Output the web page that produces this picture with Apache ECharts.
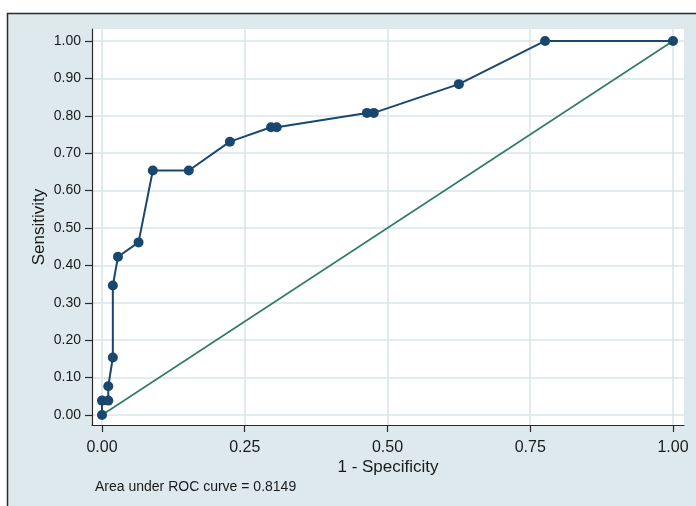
<!DOCTYPE html>
<html>
<head>
<meta charset="utf-8">
<script src="https://cdn.jsdelivr.net/npm/echarts@6/dist/echarts.min.js"></script>
<style>
html,body{margin:0;padding:0;background:#ffffff;}
#chart{width:696px;height:506px;}
</style>
</head>
<body>
<div id="chart"></div>
<script>
// ROC curve points (1 - specificity, sensitivity)
var fpr = [0, 0, 0.011, 0.011, 0.019, 0.019, 0.028, 0.064, 0.089, 0.152, 0.224, 0.296, 0.306, 0.464, 0.476, 0.625, 0.776, 1.0];
var sens = [0, 0.0385, 0.0385, 0.0769, 0.1538, 0.3462, 0.4231, 0.4615, 0.6538, 0.6538, 0.7308, 0.7692, 0.7692, 0.8077, 0.8077, 0.8846, 1.0, 1.0];
// reference diagonal
var refX = [0, 1];
var refY = [0, 1];
// tick values
var xTicks = [0, 0.25, 0.5, 0.75, 1.0];
var yTicks = [0, 0.1, 0.2, 0.3, 0.4, 0.5, 0.6, 0.7, 0.8, 0.9, 1.0];
var xTitle = '1 - Specificity';
var yTitle = 'Sensitivity';
var note = 'Area under ROC curve = 0.8149';

var bg = '#dde9ec';
var gridCol = '#d8e6ea';
var font = 'Arial, "Liberation Sans", sans-serif';

var chart = echarts.init(document.getElementById('chart'), null, {renderer: 'canvas'});
chart.setOption({
  animation: false,
  backgroundColor: '#ffffff',
  graphic: [
    {type: 'rect', z: -10, silent: true,
     shape: {x: 7.5, y: 13.5, width: 720, height: 520},
     style: {fill: bg, stroke: '#2a2a2a', lineWidth: 1.5}},
    {type: 'rect', z: -5, silent: true,
     shape: {x: 92, y: 29, width: 592, height: 396},
     style: {fill: '#ffffff'}},
    {type: 'text', left: 95, top: 480,
     style: {text: note, fontSize: 14, fontFamily: font, fill: '#1a1a1a'}}
  ],
  grid: {left: 92, right: 12, top: 29, bottom: 81, containLabel: false},
  xAxis: {
    type: 'value',
    min: -0.0175, max: 1.0193,
    name: xTitle, nameLocation: 'middle', nameGap: 34, nameMoveOverlap: false,
    nameTextStyle: {fontSize: 17, fontFamily: font, color: '#1a1a1a'},
    axisLine: {show: true, onZero: false, lineStyle: {color: '#2a2a2a', width: 1.2}},
    axisTick: {show: true, customValues: xTicks, length: 7, lineStyle: {color: '#2a2a2a', width: 1.2}},
    axisLabel: {customValues: xTicks, fontSize: 16, fontFamily: font, color: '#1a1a1a', margin: 15,
      formatter: function (v) { return v.toFixed(2); }},
    splitLine: {show: true, lineStyle: {color: gridCol, width: 1.6}}
  },
  yAxis: {
    type: 'value',
    min: -0.0267, max: 1.032,
    name: yTitle, nameLocation: 'middle', nameGap: 44, nameRotate: 90, nameMoveOverlap: false,
    nameTextStyle: {fontSize: 17, fontFamily: font, color: '#1a1a1a'},
    axisLine: {show: true, onZero: false, lineStyle: {color: '#2a2a2a', width: 1.2}},
    axisTick: {show: true, customValues: yTicks, length: 7, lineStyle: {color: '#2a2a2a', width: 1.2}},
    axisLabel: {customValues: yTicks, fontSize: 14, fontFamily: font, color: '#1a1a1a', margin: 11,
      formatter: function (v) { return v.toFixed(2); }},
    splitLine: {show: true, lineStyle: {color: gridCol, width: 1.6}}
  },
  series: [
    {
      type: 'line', z: 2,
      data: refX.map(function (x, i) { return [x, refY[i]]; }),
      showSymbol: false, symbol: 'none',
      lineStyle: {color: '#2f7a6b', width: 1.6}
    },
    {
      type: 'line', z: 3,
      data: fpr.map(function (x, i) { return [x, sens[i]]; }),
      symbol: 'circle', symbolSize: 10, showAllSymbol: true,
      itemStyle: {color: '#1a476f'},
      lineStyle: {color: '#1a476f', width: 2}
    }
  ]
});
</script>
</body>
</html>
